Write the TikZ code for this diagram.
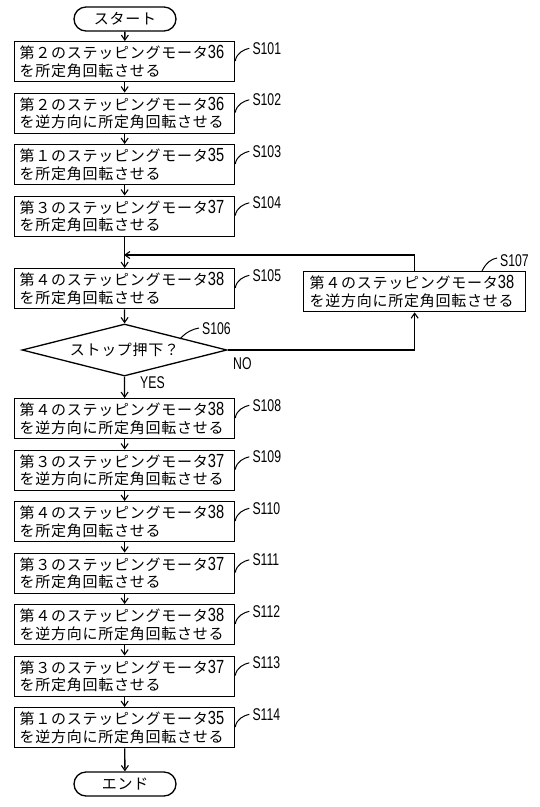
\documentclass[tikz,border=0pt]{standalone}
\usepackage{fontspec}
\usepackage{graphicx}
\usetikzlibrary{arrows.meta,shapes.geometric}
\newfontfamily\jp[LetterSpace=5]{Noto Sans CJK JP}
\newfontfamily\latinfont{Liberation Sans}
\newcommand\nm[1]{{\latinfont\fontsize{19}{19}\selectfont\scalebox{0.77}[1]{#1}}}
\newcommand\slab[1]{{\latinfont\fontsize{17}{17}\selectfont\scalebox{0.72}[1]{#1}}}
\begin{document}
\begin{tikzpicture}[x=1pt,y=-1pt,
  stepbox/.style={draw,line width=1.3pt,anchor=north west,minimum width=220pt,minimum height=40pt,
    text width=210pt,inner xsep=5pt,inner ysep=0pt,align=left,font=\jp\fontsize{15}{17.5}\selectfont},
  termbox/.style={draw,line width=1.3pt,rounded corners=12pt,minimum width=102pt,minimum height=24pt,
    inner sep=0pt,font=\jp\fontsize{15}{17}\selectfont},
  flow/.style={line width=1.3pt,-{Straight Barb[length=5pt,width=7pt,line width=1.1pt]}},
  lead/.style={line width=1pt},
  lbl/.style={anchor=west,inner sep=0pt}]
\useasboundingbox (0,0) rectangle (540,807);
\fill[white] (0,0) rectangle (540,807);

\node[termbox] (start) at (125,19) {スタート};

\node[stepbox] (s101) at (14,41) {第２のステッピングモータ\nm{36}\\を所定角回転させる};
\node[stepbox] (s102) at (14,92.5) {第２のステッピングモータ\nm{36}\\を逆方向に所定角回転させる};
\node[stepbox] (s103) at (14,144) {第１のステッピングモータ\nm{35}\\を所定角回転させる};
\node[stepbox] (s104) at (14,195.5) {第３のステッピングモータ\nm{37}\\を所定角回転させる};
\node[stepbox] (s105) at (14,268) {第４のステッピングモータ\nm{38}\\を所定角回転させる};
\node[draw,diamond,line width=1.3pt,minimum width=205pt,minimum height=52pt,aspect=3.9,inner sep=0pt,
  font=\jp\fontsize{15}{17}\selectfont] (s106) at (124.5,350) {ストップ押下？};
\node[stepbox,minimum width=222pt] (s107) at (303,271) {第４のステッピングモータ\nm{38}\\を逆方向に所定角回転させる};
\node[stepbox] (s108) at (14,398) {第４のステッピングモータ\nm{38}\\を逆方向に所定角回転させる};
\node[stepbox] (s109) at (14,449.5) {第３のステッピングモータ\nm{37}\\を逆方向に所定角回転させる};
\node[stepbox] (s110) at (14,501) {第４のステッピングモータ\nm{38}\\を所定角回転させる};
\node[stepbox] (s111) at (14,552.5) {第３のステッピングモータ\nm{37}\\を所定角回転させる};
\node[stepbox] (s112) at (14,604) {第４のステッピングモータ\nm{38}\\を逆方向に所定角回転させる};
\node[stepbox] (s113) at (14,655.5) {第３のステッピングモータ\nm{37}\\を所定角回転させる};
\node[stepbox] (s114) at (14,707) {第１のステッピングモータ\nm{35}\\を逆方向に所定角回転させる};
\node[termbox] (end) at (125,784) {エンド};

% main flow
\draw[flow] (start) -- (s101);
\draw[flow] (s101) -- (s102);
\draw[flow] (s102) -- (s103);
\draw[flow] (s103) -- (s104);
\draw[flow] (s104) -- (s105);
\draw[flow] (s105) -- (s106);
\draw[flow] (s106) -- (s108);
\draw[flow] (s108) -- (s109);
\draw[flow] (s109) -- (s110);
\draw[flow] (s110) -- (s111);
\draw[flow] (s111) -- (s112);
\draw[flow] (s112) -- (s113);
\draw[flow] (s113) -- (s114);
\draw[flow] (s114) -- (end);

% loop
\coordinate (join) at (124,255);
\draw[flow] (s106.east) -| (s107.south);
\draw[flow] (s107.north) |- (join);

% step labels
\foreach \n/\lab in {s101/S101,s102/S102,s103/S103,s104/S104,s105/S105,s108/S108,s109/S109,s110/S110,s111/S111,s112/S112,s113/S113,s114/S114}{
  \draw[lead] ([yshift=-20pt]\n.north east) .. controls +(1,-8) and +(-5,1) .. ([shift={(14,-34)}]\n.south east) coordinate (\n-l);
  \node[lbl] (\n-t) at ([shift={(3,0)}]\n-l) {\slab{\lab}};
}
\coordinate (s106-a) at (180,339);
\draw[lead] (s106-a) .. controls +(6,-7) and +(-6,1) .. (199,328) coordinate (s106-l);
\node[lbl] (s106-t) at ([shift={(3,1)}]s106-l) {\slab{S106}};
\coordinate (s107-a) at (482,271);
\draw[lead] (s107-a) .. controls +(4,-8) and +(-6,1) .. (497,258) coordinate (s107-l);
\node[lbl] (s107-t) at ([shift={(3,3)}]s107-l) {\slab{S107}};

\node[lbl] (no) at (233,364) {\slab{NO}};
\node[lbl] (yes) at (140,383) {\slab{YES}};
\end{tikzpicture}
\end{document}
